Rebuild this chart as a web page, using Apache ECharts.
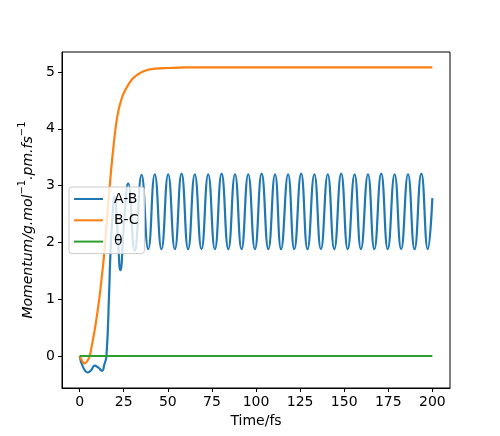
<!DOCTYPE html>
<html lang="en" style="height: 100%">

<head>
    <meta charset="utf-8">
    <script type="text/javascript" src="https://cdn.jsdelivr.net/npm/echarts@6/dist/echarts.min.js"></script>
</head>

<body style="height: 100%; margin: 0; background: #fff">
    <div id="container" style="width: 500px; height: 436px"></div>
    <script type="text/javascript">
        // A-B momentum: early wiggle, then peaks / troughs of the oscillation
        var abTime = [0, 2, 4.7, 6.5, 8.5, 10.5, 12.7, 14, 15.2, 16.7, 17.4, 18.5, 19.8, 21.5, 23.1, 25.3, 27.5, 31.2,
            35.1, 38.9, 42.6, 46.4, 50.2, 54.0, 57.8, 61.5, 65.3, 69.1, 72.9, 76.7, 80.5, 84.3, 88.1, 91.8,
            95.6, 99.4, 103.2, 107.0, 110.8, 114.2, 118.2, 121.7, 125.6, 129.2, 133.1, 136.8, 140.7, 144.4,
            148.3, 152.0, 155.9, 159.5, 163.5, 167.1, 171.0, 174.7, 178.6, 182.3, 186.2, 189.9, 193.75, 197.4, 200];
        var abValue = [0, -0.2, -0.29, -0.25, -0.17, -0.2, -0.26, -0.15, 0, 1.1, 1.75, 2.4, 2.8, 2.2, 1.51, 2.4, 3.04, 1.85,
            3.19, 1.88, 3.2, 1.88, 3.2, 1.88, 3.21, 1.88, 3.2, 1.88, 3.2, 1.88, 3.21, 1.88, 3.2, 1.88,
            3.2, 1.88, 3.21, 1.88, 3.2, 1.88, 3.2, 1.88, 3.21, 1.88, 3.2, 1.88, 3.2, 1.88,
            3.21, 1.88, 3.2, 1.88, 3.2, 1.88, 3.21, 1.88, 3.2, 1.88, 3.2, 1.88, 3.21, 1.88, 2.78];
        // B-C momentum
        var bcTime = [0, 1.5, 2.8, 4.3, 5.7, 7, 8.5, 10, 11.4, 12.5, 13.6, 15.2, 16.7, 18.4, 20.5, 22, 23.7, 25.5,
            27.5, 30, 33.1, 36, 38.8, 43, 50, 60, 80, 120, 160, 200];
        var bcValue = [0, -0.09, -0.13, -0.09, 0, 0.2, 0.45, 0.75, 1.07, 1.38, 1.69, 2.28, 2.86, 3.45, 4.04, 4.32, 4.52, 4.66,
            4.77, 4.88, 4.96, 5.01, 5.04, 5.06, 5.07, 5.08, 5.08, 5.08, 5.08, 5.08];
        // theta
        var thTime = [0, 200];
        var thValue = [0, 0];

        var xTicks = [0, 25, 50, 75, 100, 125, 150, 175, 200];
        var yTicks = [0, 1, 2, 3, 4, 5];

        function pairs(t, v) {
            return t.map(function (x, i) { return [x, v[i]]; });
        }

        var font = 'DejaVu Sans';
        var chart = echarts.init(document.getElementById('container'), null, { renderer: 'canvas' });
        var option = {
            animation: false,
            grid: {
                left: 62, right: 50, top: 52, bottom: 48,
                show: true, borderColor: '#000', borderWidth: 1
            },
            legend: {
                orient: 'vertical',
                left: 69, top: 187,
                padding: [5, 6, 5, 5],
                itemGap: 7.3,
                itemWidth: 29,
                itemHeight: 2,
                icon: 'rect',
                backgroundColor: 'rgba(255,255,255,0.8)',
                borderColor: '#cccccc',
                borderWidth: 1,
                borderRadius: 3,
                textStyle: { fontFamily: font, fontSize: 14, lineHeight: 14, color: '#000', padding: [0, 0, 0, 6] },
                data: ['A-B', 'B-C', 'θ']
            },
            xAxis: {
                type: 'value',
                min: -10, max: 210,
                name: 'Time/fs',
                nameLocation: 'middle',
                nameGap: 22,
                nameTextStyle: { fontFamily: font, fontSize: 14, color: '#000' },
                axisLine: { show: true, onZero: false, lineStyle: { color: '#000', width: 1 } },
                axisTick: { show: true, length: 4, customValues: xTicks, lineStyle: { color: '#000' } },
                axisLabel: { customValues: xTicks, margin: 7, fontFamily: font, fontSize: 14, color: '#000' },
                splitLine: { show: false }
            },
            yAxis: {
                type: 'value',
                min: -0.563, max: 5.352,
                name: '{i|Momentum/g.mol}{s|−1}{i|.pm.fs}{s|−1}',
                nameLocation: 'middle',
                nameRotate: 90,
                nameGap: 23,
                nameTextStyle: {
                    rich: {
                        i: { fontFamily: font, fontSize: 14, fontStyle: 'italic', color: '#000', lineHeight: 22 },
                        s: { fontFamily: font, fontSize: 10, color: '#000', lineHeight: 10, verticalAlign: 'top' }
                    }
                },
                axisLine: { show: true, onZero: false, lineStyle: { color: '#000', width: 1 } },
                axisTick: { show: true, length: 4, customValues: yTicks, lineStyle: { color: '#000' } },
                axisLabel: { customValues: yTicks, margin: 7, fontFamily: font, fontSize: 14, color: '#000' },
                splitLine: { show: false }
            },
            series: [
                {
                    name: 'A-B', type: 'line', data: pairs(abTime, abValue),
                    smooth: 0.5, showSymbol: false, color: '#1f77b4',
                    lineStyle: { width: 2.2, color: '#1f77b4' }
                },
                {
                    name: 'B-C', type: 'line', data: pairs(bcTime, bcValue),
                    smooth: 0.4, showSymbol: false, color: '#ff7f0e',
                    lineStyle: { width: 2.2, color: '#ff7f0e' }
                },
                {
                    name: 'θ', type: 'line', data: pairs(thTime, thValue),
                    showSymbol: false, color: '#2ca02c',
                    lineStyle: { width: 2.2, color: '#2ca02c' }
                }
            ]
        };
        chart.setOption(option);
    </script>
</body>

</html>
